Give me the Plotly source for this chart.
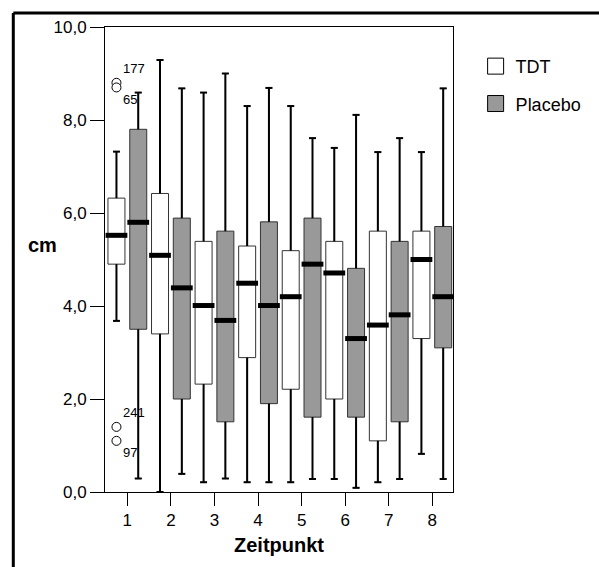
import plotly.graph_objects as go

# ---------------- data ----------------
time_points = [1, 2, 3, 4, 5, 6, 7, 8]
tick_labels = ["1", "2", "3", "4", "5", "6", "7", "8"]

tdt_upper = [7.32, 9.29, 8.59, 8.30, 8.30, 7.40, 7.31, 7.31]
tdt_q3 = [6.32, 6.42, 5.39, 5.29, 5.19, 5.39, 5.61, 5.61]
tdt_median = [5.52, 5.09, 4.01, 4.49, 4.20, 4.71, 3.59, 5.00]
tdt_q1 = [4.90, 3.40, 2.32, 2.89, 2.21, 2.00, 1.10, 3.30]
tdt_lower = [3.68, 0.00, 0.21, 0.21, 0.21, 0.28, 0.21, 0.82]

pl_upper = [8.59, 8.68, 9.00, 8.69, 7.61, 8.11, 7.61, 8.68]
pl_q3 = [7.80, 5.89, 5.61, 5.81, 5.89, 4.81, 5.39, 5.71]
pl_median = [5.80, 4.39, 3.69, 4.01, 4.90, 3.30, 3.81, 4.20]
pl_q1 = [3.50, 2.00, 1.51, 1.90, 1.61, 1.61, 1.51, 3.10]
pl_lower = [0.29, 0.39, 0.29, 0.21, 0.28, 0.09, 0.28, 0.28]

outlier_time = [1, 1, 1, 1]
outlier_values = [8.8, 8.7, 1.4, 1.1]
outlier_labels = ["177", "65", "241", "97"]
outlier_textpos = ["top right", "bottom right", "top right", "bottom right"]

# ---------------- style ----------------
OFFSET = 0.25
BOX_W = 0.39
MED_HALF = 0.25
CAP_HALF = 0.08
FONT = "Liberation Sans, Arial, sans-serif"
GRAY = "#999999"

fig = go.Figure()


def add_group(xs, upper, q3, med, q1, lower, fill, name):
    fig.add_trace(go.Box(
        x=xs, q1=q1, median=med, q3=q3, lowerfence=lower, upperfence=upper,
        width=BOX_W, whiskerwidth=0.4, fillcolor=fill,
        line=dict(color="#333333", width=1), showlegend=False, name=name,
        hoverinfo="skip"))
    # whiskers (thicker)
    wx, wy = [], []
    for x, u, t, b, l in zip(xs, upper, q3, q1, lower):
        wx += [x, x, None, x - CAP_HALF, x + CAP_HALF, None,
               x, x, None, x - CAP_HALF, x + CAP_HALF, None]
        wy += [t, u, None, u, u, None, b, l, None, l, l, None]
    fig.add_trace(go.Scatter(x=wx, y=wy, mode="lines",
                             line=dict(color="black", width=2),
                             showlegend=False, hoverinfo="skip"))
    # medians (thick)
    mx, my = [], []
    for x, m in zip(xs, med):
        mx += [x - MED_HALF, x + MED_HALF, None]
        my += [m, m, None]
    fig.add_trace(go.Scatter(x=mx, y=my, mode="lines",
                             line=dict(color="black", width=5),
                             showlegend=False, hoverinfo="skip"))


tdt_x = [t - OFFSET for t in time_points]
pl_x = [t + OFFSET for t in time_points]
add_group(tdt_x, tdt_upper, tdt_q3, tdt_median, tdt_q1, tdt_lower, "white", "TDT")
add_group(pl_x, pl_upper, pl_q3, pl_median, pl_q1, pl_lower, GRAY, "Placebo")

# outliers
fig.add_trace(go.Scatter(
    x=[t - OFFSET for t in outlier_time], y=outlier_values,
    mode="markers+text", text=outlier_labels, textposition=outlier_textpos,
    textfont=dict(family=FONT, size=13, color="black"),
    marker=dict(symbol="circle", size=9, color="white",
                line=dict(color="black", width=1)),
    showlegend=False, hoverinfo="skip"))

# legend entries
fig.add_trace(go.Scatter(x=[None], y=[None], mode="markers", name="TDT",
                         legendgroup="a",
                         marker=dict(symbol="square", size=16, color="white",
                                     line=dict(color="black", width=1))))
fig.add_trace(go.Scatter(x=[None], y=[None], mode="markers", name="Placebo",
                         legendgroup="b",
                         marker=dict(symbol="square", size=16, color=GRAY,
                                     line=dict(color="black", width=1))))

fig.update_layout(
    width=599, height=567,
    margin=dict(l=105, r=141, t=27, b=75),
    paper_bgcolor="white", plot_bgcolor="white",
    separators=",.",
    boxmode="overlay",
    font=dict(family=FONT, size=17, color="black"),
    legend=dict(x=1.065, xanchor="left", y=0.955, yanchor="top",
                font=dict(family=FONT, size=18, color="black"),
                traceorder="grouped", tracegroupgap=11,
                bgcolor="rgba(0,0,0,0)"),
    xaxis=dict(range=[0.487, 8.475], tickmode="array", tickvals=time_points,
               ticktext=tick_labels, showgrid=False, zeroline=False,
               showline=True, linecolor="black", linewidth=1, mirror=True,
               ticks="outside", ticklen=13, tickwidth=1, tickcolor="black",
               title=dict(text="<b>Zeitpunkt</b>",
                          font=dict(family=FONT, size=20), standoff=8)),
    yaxis=dict(range=[0, 10], tickmode="array", tickvals=[0, 2, 4, 6, 8, 10],
               tickformat=".1f", showgrid=False, zeroline=False,
               showline=True, linecolor="black", linewidth=1, mirror=True,
               ticks="outside", ticklen=14, tickwidth=1, tickcolor="black"),
    annotations=[dict(text="<b>cm</b>", xref="paper", yref="paper",
                      x=-0.181, y=0.531, xanchor="center", yanchor="middle",
                      showarrow=False, font=dict(family=FONT, size=20))],
    shapes=[
        dict(type="line", xref="paper", yref="paper", x0=-0.2635, x1=1.5,
             y0=1.030, y1=1.030, line=dict(color="black", width=3)),
        dict(type="line", xref="paper", yref="paper", x0=-0.2635, x1=-0.2635,
             y0=1.030, y1=-0.3, line=dict(color="black", width=3)),
    ],
)

fig.write_html("out.html")
